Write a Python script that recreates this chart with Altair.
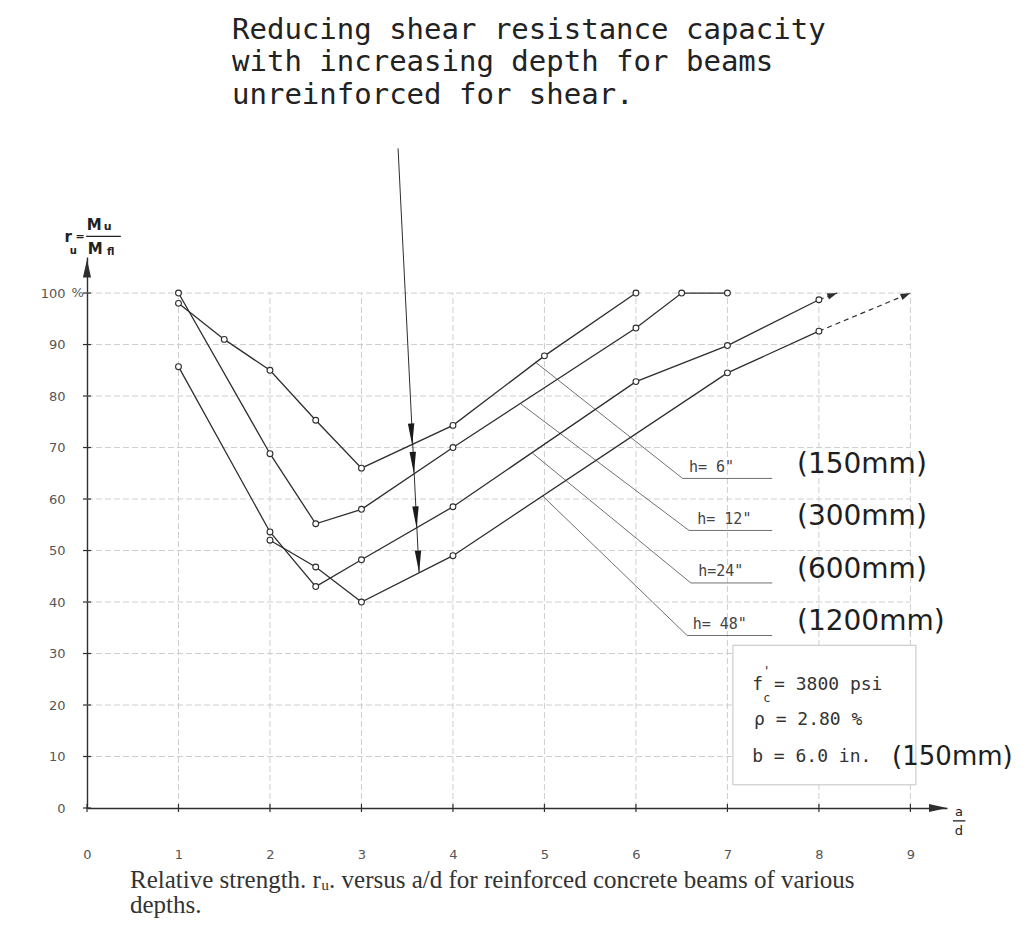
import altair as alt
import pandas as pd

# ---------------- data ----------------
ad_6 = [1, 1.5, 2, 2.5, 3, 4, 5, 6]
ru_6 = [98, 91, 85, 75.3, 66, 74.3, 87.8, 100]
ad_12 = [1, 2, 2.5, 3, 4, 6, 6.5, 7]
ru_12 = [100, 68.8, 55.2, 58, 70, 93.2, 100, 100]
ad_24 = [1, 2, 2.5, 3, 4, 6, 7, 8]
ru_24 = [85.7, 53.6, 43, 48.2, 58.5, 82.8, 89.8, 98.7]
ad_48 = [2, 2.5, 3, 4, 7, 8]
ru_48 = [52, 46.8, 40, 49, 84.5, 92.6]

# dashed extrapolations
ext_24_ad = [8, 8.2]
ext_24_ru = [98.7, 100]
ext_48_ad = [8, 9]
ext_48_ru = [92.6, 100]

depth_in = ['h= 6"', 'h= 12"', 'h=24"', 'h= 48"']
depth_mm = ["(150mm)", "(300mm)", "(600mm)", "(1200mm)"]
x_ticks = list(range(0, 10))
y_ticks = list(range(0, 101, 10))

title_lines = ["Reducing shear resistance capacity",
               "with increasing depth for beams",
               "unreinforced for shear."]
caption_lines = ["Relative strength. r\u1d64. versus a/d for reinforced concrete beams of various",
                 "depths."]

# ---------------- scales / axes ----------------
INK = "#2e2e2e"
MONO = "DejaVu Sans Mono"
SANS = "DejaVu Sans"
SERIF = "Liberation Serif"

xs = alt.Scale(domain=[0, 9.4], nice=False, zero=False)
ys = alt.Scale(domain=[0, 107], nice=False, zero=False)

xax = alt.Axis(values=x_ticks, title=None, grid=False, ticks=False, domain=True,
               domainColor=INK, domainWidth=1.4, labelFont=SANS, labelFontSize=13,
               labelColor="#555555", labelPadding=40, labelFlush=False, labelOverlap=False)
yax = alt.Axis(values=y_ticks, title=None, grid=False, ticks=False, domain=True,
               domainColor=INK, domainWidth=1.4, labelFont=SANS, labelFontSize=13,
               labelColor="#555555", labelPadding=22, labelFlush=False, labelOverlap=False)


def X(f="x"):
    return alt.X(f"{f}:Q", scale=xs, axis=xax)


def Y(f="y"):
    return alt.Y(f"{f}:Q", scale=ys, axis=yax)


def text_layer(rows, font, align="left", baseline="middle", weight="normal"):
    df = pd.DataFrame(rows)
    return alt.Chart(df).mark_text(font=font, align=align, baseline=baseline,
                                   fontWeight=weight).encode(
        x=X(), y=Y(), text="t:N",
        size=alt.Size("fs:Q", scale=None),
        color=alt.Color("c:N", scale=None))


# ---------------- grid ----------------
grid_rows = [dict(x=v, x2=v, y=0, y2=100) for v in x_ticks[1:]] + \
            [dict(x=0, x2=9, y=v, y2=v) for v in y_ticks[1:]]
grid = alt.Chart(pd.DataFrame(grid_rows)).mark_rule(
    color="#c8c8c8", strokeWidth=0.9, strokeDash=[6, 3]).encode(
    x=X(), x2="x2:Q", y=Y(), y2="y2:Q")

# ---------------- parameter box ----------------
box = alt.Chart(pd.DataFrame([dict(x=7.06, x2=9.06, y=4.5, y2=31.6)])).mark_rect(
    fill="white", stroke="#c2c2c2", strokeWidth=1).encode(
    x=X(), x2="x2:Q", y=Y(), y2="y2:Q")

# ---------------- curves ----------------
series = [("h6", ad_6, ru_6), ("h12", ad_12, ru_12), ("h24", ad_24, ru_24), ("h48", ad_48, ru_48)]
crow = []
for name, a_list, r_list in series:
    for i, (a, r) in enumerate(zip(a_list, r_list)):
        crow.append(dict(s=name, o=i, x=a, y=r))
cdf = pd.DataFrame(crow)

lines = alt.Chart(cdf).mark_line(color=INK, strokeWidth=1.3).encode(
    x=X(), y=Y(), detail="s:N", order="o:Q")
markers = alt.Chart(cdf).mark_point(shape="circle", size=34, fill="white", fillOpacity=1,
                                    stroke=INK, strokeWidth=1.1).encode(x=X(), y=Y())

erow = []
for name, a_list, r_list in [("e24", ext_24_ad, ext_24_ru), ("e48", ext_48_ad, ext_48_ru)]:
    for i, (a, r) in enumerate(zip(a_list, r_list)):
        erow.append(dict(s=name, o=i, x=a, y=r))
ext = alt.Chart(pd.DataFrame(erow)).mark_line(color=INK, strokeWidth=1.2, strokeDash=[5, 4]).encode(
    x=X(), y=Y(), detail="s:N", order="o:Q")
ext_heads = alt.Chart(pd.DataFrame([
    dict(x=ext_24_ad[1], y=ext_24_ru[1], a=340),
    dict(x=ext_48_ad[1], y=ext_48_ru[1], a=337),
])).mark_point(shape="M0,0L-2,-0.65L-2,0.65Z", filled=True, size=100, color=INK, opacity=1).encode(
    x=X(), y=Y(), angle=alt.Angle("a:Q", scale=None))

# ---------------- leader lines to labels ----------------
leaders = [
    [(4.90, 86.6), (6.51, 64.0), (7.49, 64.0)],
    [(4.74, 78.5), (6.58, 53.9), (7.49, 53.9)],
    [(4.87, 68.9), (6.60, 43.7), (7.49, 43.7)],
    [(4.98, 60.6), (6.56, 33.5), (7.49, 33.5)],
]
leader_rows = []
for k, pts in enumerate(leaders):
    for i, (a, r) in enumerate(pts):
        leader_rows.append(dict(s=k, o=i, x=a, y=r))
leader = alt.Chart(pd.DataFrame(leader_rows)).mark_line(color="#707070", strokeWidth=1).encode(
    x=X(), y=Y(), detail="s:N", order="o:Q")

# ---------------- annotation arrow ----------------
ann_line = alt.Chart(pd.DataFrame([dict(o=0, x=3.40, y=128.1), dict(o=1, x=3.63, y=45.7)])).mark_line(
    color=INK, strokeWidth=1).encode(x=X(), y=Y(), order="o:Q")
ann_heads = alt.Chart(pd.DataFrame([
    dict(x=3.555, y=70.4), dict(x=3.573, y=64.9), dict(x=3.603, y=54.3), dict(x=3.63, y=45.7)
])).mark_point(shape="M0,0L-0.32,-2.2L0.32,-2.2Z", filled=True, size=400, color="#1a1a1a",
               opacity=1, angle=357).encode(x=X(), y=Y())

# ---------------- axis arrows and tick crosses ----------------
yarrow = alt.Chart(pd.DataFrame([dict(x=0, y=106.5)])).mark_point(
    shape="M0,0L-0.45,2L0.45,2Z", filled=True, size=324, color=INK, opacity=1).encode(x=X(), y=Y())
xarrow = alt.Chart(pd.DataFrame([dict(x=9.4, y=0)])).mark_point(
    shape="M0,0L-2,-0.45L-2,0.45Z", filled=True, size=324, color=INK, opacity=1).encode(x=X(), y=Y())
ytick_marks = alt.Chart(pd.DataFrame([dict(x=0, y=v) for v in y_ticks])).mark_point(
    shape="M-1,0L1,0", filled=False, size=64, color=INK, strokeWidth=1.2, opacity=1).encode(x=X(), y=Y())
xtick_marks = alt.Chart(pd.DataFrame([dict(x=v, y=0) for v in x_ticks])).mark_point(
    shape="M0,-1L0,1", filled=False, size=64, color=INK, strokeWidth=1.2, opacity=1).encode(x=X(), y=Y())

# ---------------- texts ----------------
title_txt = text_layer([
    dict(x=1.585, y=151.0, t=title_lines[0], fs=29, c="#222222"),
    dict(x=1.585, y=144.8, t=title_lines[1], fs=29, c="#222222"),
    dict(x=1.585, y=138.4, t=title_lines[2], fs=29, c="#222222"),
], MONO)

label_y = [66.3, 56.2, 46.0, 35.8]
label_x_in = [6.58, 6.67, 6.68, 6.62]
label_rows_in = []
label_rows_mm = []
for k in range(4):
    label_rows_in.append(dict(x=label_x_in[k], y=label_y[k], t=depth_in[k], fs=15, c="#444444"))
    label_rows_mm.append(dict(x=7.76, y=label_y[k] + 0.3, t=depth_mm[k], fs=28, c="#1e1e1e"))
labels_in = text_layer(label_rows_in, MONO)
labels_mm = text_layer(label_rows_mm, SANS)

box_txt = text_layer([
    dict(x=7.27, y=23.9, t="f", fs=18, c="#333333"),
    dict(x=7.51, y=23.9, t="= 3800 psi", fs=18, c="#333333"),
    dict(x=7.29, y=17.1, t="\u03c1 = 2.80 %", fs=18, c="#333333"),
    dict(x=7.27, y=9.9, t="b = 6.0 in.", fs=18, c="#333333"),
], MONO)
box_small = text_layer([
    dict(x=7.43, y=26.6, t="'", fs=13, c="#333333"),
    dict(x=7.43, y=21.4, t="c", fs=12, c="#333333"),
], MONO, align="center")
box_mm = text_layer([dict(x=8.80, y=10.0, t="(150mm)", fs=26, c="#1e1e1e")], SANS)

pct_txt = text_layer([dict(x=-0.17, y=100, t="%", fs=13, c="#555555")], SANS)

ytitle = text_layer([
    dict(x=-0.205, y=110.9, t="r", fs=15, c="#222222"),
    dict(x=-0.15, y=108.2, t="u", fs=10, c="#222222"),
    dict(x=-0.075, y=110.9, t="=", fs=11, c="#222222"),
    dict(x=0.08, y=113.3, t="M", fs=15, c="#222222"),
    dict(x=0.225, y=112.9, t="u", fs=11, c="#222222"),
    dict(x=0.09, y=108.6, t="M", fs=15, c="#222222"),
    dict(x=0.26, y=107.9, t="fl", fs=10, c="#222222"),
], SANS, align="center", weight="bold")
xtitle = text_layer([
    dict(x=9.53, y=-0.8, t="a", fs=13, c="#222222"),
    dict(x=9.53, y=-4.4, t="d", fs=13, c="#222222"),
], SANS, align="center")
frac_bars = alt.Chart(pd.DataFrame([
    dict(x=-0.01, x2=0.37, y=111.0, y2=111.0),
    dict(x=9.465, x2=9.6, y=-2.5, y2=-2.5),
])).mark_rule(color="#222222", strokeWidth=1.3).encode(x=X(), x2="x2:Q", y=Y(), y2="y2:Q")

caption = text_layer([
    dict(x=0.47, y=-14.0, t=caption_lines[0], fs=25, c="#333333"),
    dict(x=0.47, y=-18.9, t=caption_lines[1], fs=25, c="#333333"),
], SERIF)

chart = alt.layer(
    grid, box, leader, lines, ext, ext_heads, markers, ann_line, ann_heads,
    yarrow, xarrow, ytick_marks, xtick_marks,
    title_txt, labels_in, labels_mm, box_txt, box_small, box_mm, pct_txt,
    ytitle, xtitle, frac_bars, caption,
).properties(
    width=860, height=551,
    autosize=alt.AutoSizeParams(type="none"),
    padding={"left": 79, "top": 249, "right": 71, "bottom": 120},
    background="white",
).configure_view(stroke=None)

chart.save("out.html", embed_options={"renderer": "svg", "actions": False})
